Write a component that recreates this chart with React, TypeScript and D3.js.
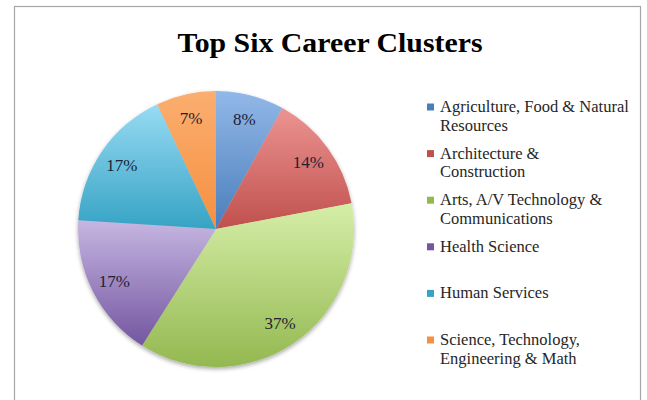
import React from 'react';
import * as d3 from 'd3';

const categories = [
  'Agriculture, Food & Natural Resources',
  'Architecture & Construction',
  'Arts, A/V Technology & Communications',
  'Health Science',
  'Human Services',
  'Science, Technology, Engineering & Math',
];
const values = [8, 14, 37, 17, 17, 7];
// legend text wrapped the way the reference wraps it
const legendLines = [
  ['Agriculture, Food & Natural', 'Resources'],
  ['Architecture &', 'Construction'],
  ['Arts, A/V Technology &', 'Communications'],
  ['Health Science'],
  ['Human Services'],
  ['Science, Technology,', 'Engineering & Math'],
];
const baseColors = ['#4a7ebb', '#c0504d', '#94b850', '#7356a0', '#36a3c4', '#f59040'];
const lightColors = ['#92b8e8', '#ec9492', '#d5eea8', '#c6b6e2', '#98dbf3', '#fbae70'];

const W = 647;
const H = 400;
const cx = 216;
const cy = 229;
const radius = 138;

const App: React.FC = () => {
  const pie = d3.pie<number>().sort(null).value((d) => d);
  const arcs = pie(values);
  const arc = d3.arc<d3.PieArcDatum<number>>().innerRadius(0).outerRadius(radius);
  const labelArc = d3.arc<d3.PieArcDatum<number>>().innerRadius(114).outerRadius(114);

  const legendY = d3.scaleLinear().domain([0, 1]).range([112, 158.6]);

  return (
    <svg width={W} height={H} style={{ position: 'absolute', left: 0, top: 0, background: '#fff' }}>
      <defs>
        {baseColors.map((c, i) => (
          <linearGradient key={i} id={`g${i}`} x1="0" y1="0" x2="0" y2="1">
            <stop offset="0%" stopColor={lightColors[i]} />
            <stop offset="100%" stopColor={c} />
          </linearGradient>
        ))}
        <filter id="shadow" x="-10%" y="-10%" width="120%" height="125%">
          <feGaussianBlur in="SourceAlpha" stdDeviation="2" />
          <feOffset dx="0" dy="2" result="b" />
          <feComponentTransfer><feFuncA type="linear" slope="0.35" /></feComponentTransfer>
          <feMerge>
            <feMergeNode />
            <feMergeNode in="SourceGraphic" />
          </feMerge>
        </filter>
      </defs>
      <rect x={14.5} y={6.5} width={626} height={420} fill="#fff" stroke="#a6a6a6" strokeWidth={1.2} />
      <text
        x={330}
        y={52}
        textAnchor="middle"
        fontFamily="'Liberation Serif', serif"
        fontWeight="bold"
        fontSize={28}
        textLength={305}
        lengthAdjust="spacingAndGlyphs"
        fill="#000"
      >
        Top Six Career Clusters
      </text>
      <g transform={`translate(${cx},${cy})`}>
        <g filter="url(#shadow)">
          {arcs.map((a, i) => (
            <path key={i} d={arc(a) || ''} fill={`url(#g${i})`} />
          ))}
        </g>
        {arcs.map((a, i) => {
          const [x, y] = labelArc.centroid(a);
          return (
            <text
              key={i}
              x={x}
              y={y}
              dy="0.35em"
              textAnchor="middle"
              fontFamily="'Liberation Serif', serif"
              fontSize={17}
              fill="#1c2233"
            >
              {`${values[i]}%`}
            </text>
          );
        })}
      </g>
      <g fontFamily="'Liberation Serif', serif" fontSize={16.5} fill="#262626">
        {categories.map((c, i) => {
          const y = legendY(i);
          return (
            <g key={c}>
              <rect x={427} y={y - 8.5} width={7} height={7} fill={baseColors[i]} />
              {legendLines[i].map((line, j) => (
                <text key={j} x={440} y={y + j * 18.5}>
                  {line}
                </text>
              ))}
            </g>
          );
        })}
      </g>
    </svg>
  );
};

export default App;
